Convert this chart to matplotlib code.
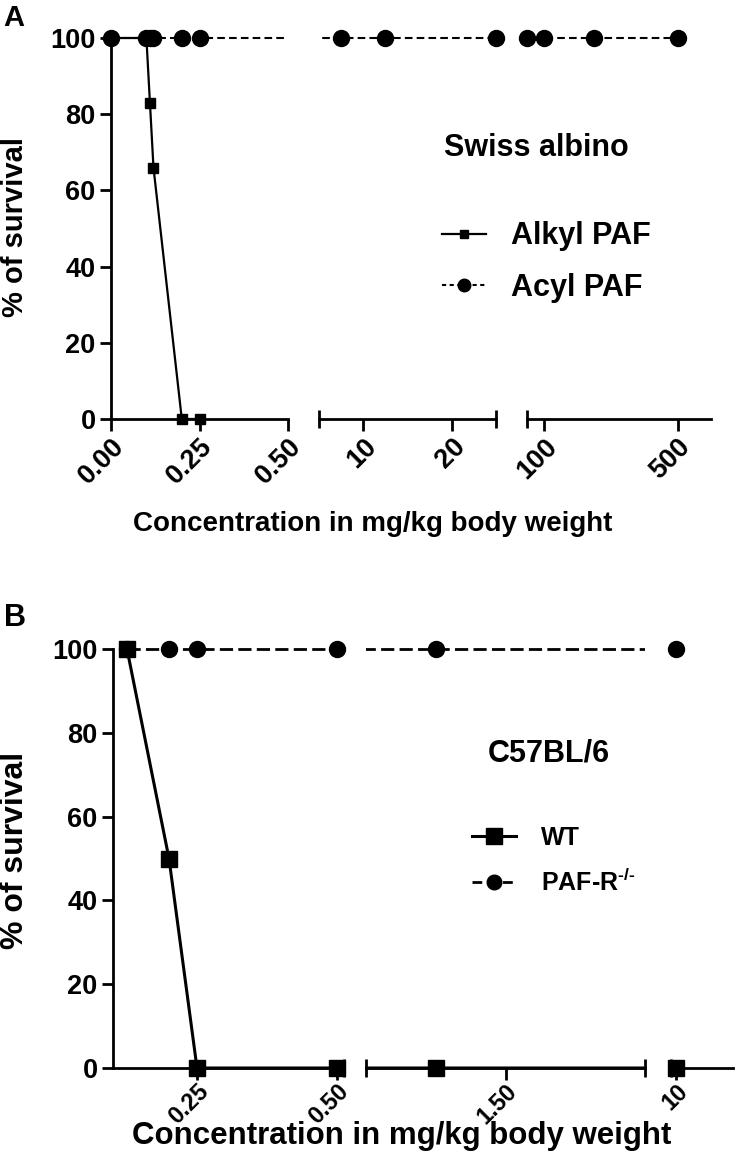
import numpy as np
import matplotlib
matplotlib.use("Agg")
import matplotlib.pyplot as plt
from matplotlib.lines import Line2D

plt.rcParams["font.family"] = ["Liberation Sans", "DejaVu Sans"]
plt.rcParams["font.weight"] = "bold"
plt.rcParams["lines.scale_dashes"] = False
plt.rcParams["mathtext.fontset"] = "custom"
plt.rcParams["mathtext.rm"] = "Liberation Sans:bold"
plt.rcParams["mathtext.bf"] = "Liberation Sans:bold"

W, H = 741, 1152

# ---- panel A : Swiss albino ----
a_alkyl_dose = [0.0, 0.10, 0.11, 0.12, 0.20, 0.25]
a_alkyl_surv = [100, 100, 83, 66, 0, 0]
a_acyl_dose = [0.0, 0.10, 0.11, 0.12, 0.20, 0.25, 7.5, 12.5, 25, 50, 100, 250, 500]
a_acyl_surv = [100, 100, 100, 100, 100, 100, 100, 100, 100, 100, 100, 100, 100]
a_segments = [(0.0, 0.5), (5, 25), (50, 600)]
a_ticks = [[0.0, 0.25, 0.5], [10, 20], [100, 500]]
a_ticklabels = [["0.00", "0.25", "0.50"], ["10", "20"], ["100", "500"]]

# ---- panel B : C57BL/6 ----
b_wt_dose = [0.125, 0.2, 0.25, 0.5, 1.25, 10]
b_wt_surv = [100, 50, 0, 0, 0, 0]
b_ko_dose = [0.125, 0.2, 0.25, 0.5, 1.25, 10]
b_ko_surv = [100, 100, 100, 100, 100, 100]
b_segments = [(0.1, 0.5125), (1.0, 2.0), (9.9, 11.1)]
b_ticks = [[0.25, 0.5], [1.5], [10]]
b_ticklabels = [["0.25", "0.50"], ["1.50"], ["10"]]

y_ticks = [0, 20, 40, 60, 80, 100]

fig = plt.figure(figsize=(W / 100, H / 100), dpi=100)
PAD = 3


def add_segment(xpx, y0px, y100px):
    upp = (y0px - y100px) / 100.0
    bot = y0px + PAD * upp
    top = y100px - PAD * upp
    ax = fig.add_axes([xpx[0] / W, 1 - bot / H, (xpx[1] - xpx[0]) / W, (bot - top) / H])
    ax.set_ylim(-PAD, 100 + PAD)
    ax.patch.set_visible(False)
    for s in ["top", "right"]:
        ax.spines[s].set_visible(False)
    ax.spines["bottom"].set_position(("data", 0))
    ax.spines["bottom"].set_linewidth(2)
    ax.spines["left"].set_linewidth(2)
    return ax


def draw_panel(seg_px, y0px, y100px, segments, ticks, ticklabels, series,
               xtick_fs, ytick_fs, xpad):
    axes = []
    n = len(segments)
    for i, (lo, hi) in enumerate(segments):
        ax = add_segment(seg_px[i], y0px, y100px)
        ax.set_xlim(lo, hi)
        ax.set_xticks(ticks[i], ticklabels[i])
        caps = []
        if i > 0:
            caps.append(lo)
        if i < n - 1:
            caps.append(hi)
        ax.set_xticks(caps, minor=True)
        ax.tick_params(axis="x", which="major", direction="out", length=8.5, width=2,
                       labelsize=xtick_fs, pad=xpad)
        ax.tick_params(axis="x", which="minor", direction="inout", length=13, width=2)
        for lab in ax.get_xticklabels():
            lab.set_rotation(45)
            lab.set_ha("right")
            lab.set_va("top")
            lab.set_rotation_mode("anchor")
            lab.set_fontweight("bold")
        if i == 0:
            ax.spines["left"].set_bounds(0, 100)
            ax.set_yticks(y_ticks)
            ax.tick_params(axis="y", direction="out", length=8, width=2, labelsize=ytick_fs, pad=3)
        else:
            ax.spines["left"].set_visible(False)
            ax.set_yticks([])

        for k, s in enumerate(series):
            x = np.array(s["x"], dtype=float)
            y = np.array(s["y"], dtype=float)
            ax.plot(x, y, color="k", lw=s["lw"], ls=s["ls"], zorder=3 + k * 0.1)
            inside = (x >= lo - 1e-9) & (x <= hi + 1e-9)
            ax.plot(x[inside], y[inside], ls="none", marker=s["marker"], ms=s["ms"],
                    color="k", clip_on=False, zorder=4 + k * 0.1)
        axes.append(ax)
    return axes


a_series = [
    dict(x=a_alkyl_dose, y=a_alkyl_surv, lw=1.6, ls="-", marker="s", ms=7),
    dict(x=a_acyl_dose, y=a_acyl_surv, lw=1.5, ls=(0, (5.5, 3)), marker="o", ms=11.5),
]
b_series = [
    dict(x=b_ko_dose, y=b_ko_surv, lw=2.0, ls=(0, (9.5, 3.8)), marker="o", ms=11.5),
    dict(x=b_wt_dose, y=b_wt_surv, lw=2.2, ls="-", marker="s", ms=12),
]

draw_panel([(111, 288), (319, 496), (527, 711)], 419, 38,
           a_segments, a_ticks, a_ticklabels, a_series, 19.5, 19.5, 2)
draw_panel([(113, 344), (366, 645), (671, 733)], 1068, 649,
           b_segments, b_ticks, b_ticklabels, b_series, 17, 19.5, 0)

# axis titles and panel letters
fig.text(373 / W, 1 - 524 / H, "Concentration in mg/kg body weight",
         ha="center", va="center", fontsize=20, fontweight="bold")
fig.text(402 / W, 1 - 1144 / H, "Concentration in mg/kg body weight",
         ha="center", va="baseline", fontsize=22.5, fontweight="bold")
fig.text(15 / W, 1 - 227 / H, "% of survival", rotation=90,
         ha="center", va="center", fontsize=21, fontweight="bold")
fig.text(15 / W, 1 - 850 / H, "% of survival", rotation=90,
         ha="center", va="center", fontsize=23, fontweight="bold")
fig.text(14 / W, 1 - 18 / H, "A", ha="center", va="center", fontsize=21, fontweight="bold")
fig.text(15 / W, 1 - 618 / H, "B", ha="center", va="center", fontsize=22, fontweight="bold")

# legends
fig.text(536 / W, 1 - 148 / H, "Swiss albino", ha="center", va="center",
         fontsize=22, fontweight="bold")
a_handles = [
    Line2D([], [], color="k", lw=1.6, marker="s", ms=6),
    Line2D([], [], color="k", lw=1.5, ls=(0, (3, 2.5)), marker="o", ms=9),
]
fig.legend(a_handles, ["Alkyl PAF", "Acyl PAF"], loc="center left",
           bbox_to_anchor=(442 / W, 1 - 262 / H), frameon=False, borderpad=0,
           borderaxespad=0, handlelength=1.45, handletextpad=0.8, labelspacing=0.7,
           prop=dict(weight="bold", size=22))

fig.text(549 / W, 1 - 753 / H, "C57BL/6", ha="center", va="center",
         fontsize=22, fontweight="bold")
b_handles = [
    Line2D([], [], color="k", lw=2.2, marker="s", ms=11),
    Line2D([], [], color="k", lw=2.0, ls=(0, (7, 4)), marker="o", ms=10.5),
]
fig.legend(b_handles, ["WT", r"PAF-R$^{\text{-/-}}$"], loc="center left",
           bbox_to_anchor=(472 / W, 1 - 861 / H), frameon=False, borderpad=0,
           borderaxespad=0, handlelength=1.76, handletextpad=1.0, labelspacing=0.77,
           prop=dict(weight="bold", size=18))

fig.savefig("out.png", dpi=100)
